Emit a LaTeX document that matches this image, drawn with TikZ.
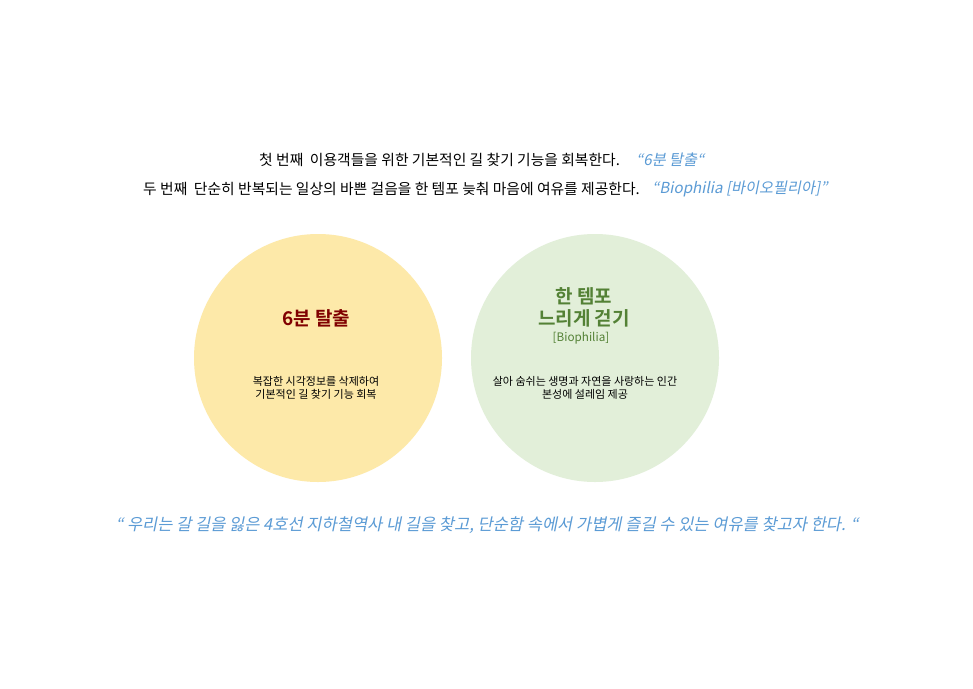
\documentclass[tikz,border=0pt]{standalone}
\usepackage{fontspec}
\setmainfont{Noto Sans CJK KR}
\newfontfamily\kr{Noto Sans CJK KR}
\newfontfamily\krit[FakeSlant=0.2]{Noto Sans CJK KR}
\newfontfamily\krb{Noto Sans CJK KR Bold}
\definecolor{quoteblue}{HTML}{5B9BD5}
\definecolor{sunfill}{HTML}{FDE9A9}
\definecolor{leaffill}{HTML}{E2EFD9}
\definecolor{darkred}{HTML}{800000}
\definecolor{leafgreen}{HTML}{538135}
\begin{document}
\begin{tikzpicture}[x=1pt,y=-1pt,
  bubble/.style={circle, minimum size=248pt, inner sep=0pt},
  plain/.style={inner sep=0pt, font=\kr\fontsize{14.8}{17}\selectfont, text=black},
  quote/.style={inner sep=0pt, font=\krit\fontsize{15.2}{17}\selectfont, text=quoteblue},
  title/.style={inner sep=0pt, align=center, font=\krb\fontsize{19}{22}\selectfont},
  body/.style={inner sep=0pt, align=center, font=\kr\fontsize{11}{13.5}\selectfont, text=black}]
\useasboundingbox (0,0) rectangle (973,688);
\fill[white] (0,0) rectangle (973,688);
% lines
\node[plain, anchor=west] (l1) at (259,160) {첫 번째\ \ 이용객들을 위한 기본적인 길 찾기 기능을 회복한다.};
\node[quote, anchor=west] (q1) at (636,160) {“6분 탈출“};
\node[plain, anchor=west] (l2) at (143,189) {두 번째\ \ 단순히 반복되는 일상의 바쁜 걸음을 한 템포 늦춰 마음에 여유를 제공한다.};
\node[quote, anchor=west] (q2) at (652,189) {“Biophilia [바이오필리아]”};
% circles
\node[bubble, fill=sunfill] (lc) at (318,358) {};
\node[bubble, fill=leaffill] (rc) at (595,358) {};
\node[title, text=darkred] (t1) at (316,318) {6분 탈출};
\node[title, text=leafgreen] (t2) at (584,307) {한 템포\\느리게 걷기};
\node[inner sep=0pt, font=\kr\fontsize{11.7}{14}\selectfont, text=leafgreen] (t2b) at (581,338) {[Biophilia]};
\node[body] (b1) at (316,388) {복잡한 시각정보를 삭제하여\\기본적인 길 찾기 기능 회복};
\node[body] (b2) at (585,388) {살아 숨쉬는 생명과 자연을 사랑하는 인간\\본성에 설레임 제공};
% bottom quote
\node[inner sep=0pt, font=\krit\fontsize{16.5}{19}\selectfont, text=quoteblue] (bq) at (487,525) {“ 우리는 갈 길을 잃은 4호선 지하철역사 내 길을 찾고, 단순함 속에서 가볍게 즐길 수 있는 여유를 찾고자 한다. “};
\end{tikzpicture}
\end{document}
